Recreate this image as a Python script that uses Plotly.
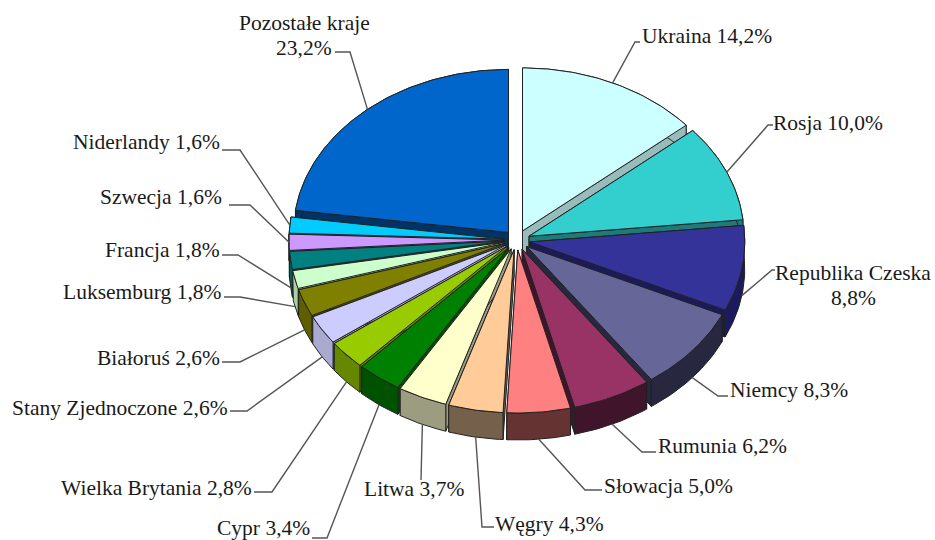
import math
import numpy as np
import plotly.graph_objects as go

countries = ["Ukraina", "Rosja", "Republika Czeska", "Niemcy", "Rumunia", "Słowacja", "Węgry", "Litwa", "Cypr",
             "Wielka Brytania", "Stany Zjednoczone", "Białoruś", "Luksemburg", "Francja", "Szwecja", "Niderlandy",
             "Pozostałe kraje"]
values = [14.2, 10.0, 8.8, 8.3, 6.2, 5.0, 4.3, 3.7, 3.4, 2.8, 2.6, 2.6, 1.8, 1.8, 1.6, 1.6, 23.2]
top_colors = ["#CCFFFF", "#33CFCF", "#333399", "#666699", "#993366", "#FF8080", "#FFCC99", "#FFFFCC", "#008000",
              "#99CC00", "#CCCCFF", "#808000", "#CCFFCC", "#008080", "#CC99FF", "#00CCFF", "#0066CC"]
wall_colors = ["#99BBBB", "#1F7A7A", "#1A1A5C", "#27273F", "#40142A", "#663333", "#75604C", "#9C9C80", "#005200",
               "#668800", "#AAAAD0", "#5F5F00", "#A8D0A8", "#005F5F", "#9970C0", "#0099C0", "#003366"]
label_lines = ["Ukraina 14,2%", "Rosja 10,0%", "Republika Czeska<br>8,8%", "Niemcy 8,3%", "Rumunia 6,2%",
               "Słowacja 5,0%", "Węgry 4,3%", "Litwa 3,7%", "Cypr 3,4%", "Wielka Brytania 2,8%",
               "Stany Zjednoczone 2,6%", "Białoruś 2,6%", "Luksemburg 1,8%", "Francja 1,8%", "Szwecja 1,6%",
               "Niderlandy 1,6%", "Pozostałe kraje<br>23,2%"]
label_x = [640, 771, 853, 728, 656, 602, 493, 362, 312, 254, 230, 222, 224, 222, 224, 222, 304]
label_y = [36, 123, 285, 390, 446, 486, 524, 489, 528, 488, 408, 358, 292, 250, 197, 142, 35]
label_anchor = ["left", "left", "center", "left", "left", "left", "left", "left", "right", "right", "right", "right",
                "right", "right", "right", "right", "center"]
elbow_x = [635, 768, 772, 718, 642, 585, 482, 421, 327, 272, 247, 240, 240, 238, 250, 240, 350]
elbow_y = [42, 125, 270, 396, 452, 490, 527, 480, 538, 492, 411, 362, 297, 255, 205, 150, 52]
end_x = [640, 773, 775, 728, 656, 602, 494, 421, 312, 254, 230, 222, 224, 222, 229, 222, 335]

CX, CY, RX, RY, EX, EY, DEPTH = 517, 240, 215, 163, 13, 10, 27
VIEW_AT = [0, 50, 85, 117, 146, 168, 200, 214, 226, 236, 245, 254, 300, 360]
VIEW_TURN = [0, 0.6, 1.3, 1.9, 1.3, 2.0, 3.0, 2.7, 2.6, 2.2, 1.0, 0.5, 0, 0]
FONT = dict(family="Liberation Serif", size=21.5, color="#1a1a1a")
total = sum(values)

fig = go.Figure()


def view(a):
    # the reference's perspective turns the front of the pie slightly
    return a - math.radians(float(np.interp(math.degrees(a), VIEW_AT, VIEW_TURN)))


def poly(xs, ys, fill, line="#222222", width=1):
    fig.add_trace(go.Scatter(x=xs, y=ys, mode="lines", fill="toself", fillcolor=fill,
                             line=dict(color=line, width=width), hoverinfo="skip", showlegend=False))


slices = []
cum = 0.0
for i, v in enumerate(values):
    a0 = cum / total * 2 * math.pi
    cum += v
    a1 = cum / total * 2 * math.pi
    mid = (a0 + a1) / 2
    ax = CX + EX * math.sin(mid)
    ay = CY - EY * math.cos(mid)
    slices.append((i, a0, a1, mid, ax, ay))

for i, a0, a1, mid, ax, ay in sorted(slices, key=lambda s: -math.cos(s[3])):
    n = max(6, int((a1 - a0) * 60))
    angs = [view(a0 + (a1 - a0) * k / n) for k in range(n + 1)]
    rim_x = [ax + RX * math.sin(a) for a in angs]
    rim_y = [ay - RY * math.cos(a) for a in angs]
    wall = wall_colors[i]
    for j in (0, -1):
        poly([ax, rim_x[j], rim_x[j], ax, ax], [ay, rim_y[j], rim_y[j] + DEPTH, ay + DEPTH, ay], wall)
    poly(rim_x + rim_x[::-1] + [rim_x[0]], rim_y + [y + DEPTH for y in rim_y[::-1]] + [rim_y[0]], wall)
    poly([ax] + rim_x + [ax], [ay] + rim_y + [ay], top_colors[i])

for i, a0, a1, mid, ax, ay in slices:
    sx = ax + RX * math.sin(view(mid))
    sy = ay - RY * math.cos(view(mid))
    if math.cos(mid) < -0.05:
        sy += DEPTH
    fig.add_trace(go.Scatter(x=[sx, elbow_x[i], end_x[i]], y=[sy, elbow_y[i], elbow_y[i]], mode="lines",
                             line=dict(color="#555555", width=1.4), hoverinfo="skip", showlegend=False))
    parts = label_lines[i].split("<br>")
    for k, part in enumerate(parts):
        fig.add_annotation(x=label_x[i], y=label_y[i] + (k - (len(parts) - 1) / 2) * 25, text=part, showarrow=False,
                           xanchor=label_anchor[i], yanchor="middle", font=FONT)

fig.update_layout(width=935, height=540, margin=dict(l=0, r=0, t=0, b=0), paper_bgcolor="white",
                  plot_bgcolor="white", showlegend=False,
                  xaxis=dict(range=[0, 935], visible=False, fixedrange=True),
                  yaxis=dict(range=[540, 0], visible=False, fixedrange=True))
fig.write_html("out.html", config=dict(displayModeBar=False),
               post_script="document.body.style.margin='0';document.body.style.overflow='hidden';")
